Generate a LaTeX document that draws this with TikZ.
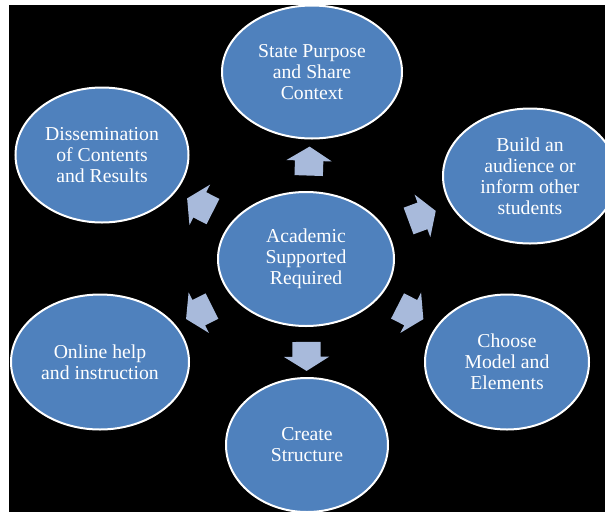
\documentclass[tikz,border=0pt]{standalone}
\usepackage{fontspec}
\setmainfont{Liberation Serif}
\usetikzlibrary{shapes.geometric, shapes.arrows}
\definecolor{myblue}{RGB}{79,129,189}
\definecolor{myarrow}{RGB}{168,186,219}
\tikzset{bubble/.style={ellipse, draw=white, line width=2pt, fill=myblue, text=white,
    align=center, inner sep=0pt, minimum width=176pt, minimum height=134pt,
    font=\fontsize{19.7}{21}\selectfont},
  blockarrow/.style={single arrow, fill=myarrow, inner xsep=0pt, inner ysep=14pt,
    minimum height=29pt, single arrow head extend=8.5pt, single arrow tip angle=116,
    sloped, allow upside down}}

\begin{document}
\begin{tikzpicture}[x=1pt, y=-1pt]
\fill[white] (0,0) rectangle (605,512);
\useasboundingbox (0,0) rectangle (605,512);
\fill[black] (9,5) rectangle (605,512);
\clip (9,5) rectangle (605,512);
\node[bubble] (acad) at (306,259) {Academic\\Supported\\Required};
\node[bubble, minimum width=180pt, minimum height=133pt] (purpose) at (312,72) {State Purpose\\and Share\\Context};
\node[bubble, minimum width=174pt, minimum height=135pt] (build) at (530,176) {Build an\\audience or\\inform other\\students};
\node[bubble, minimum width=164pt, minimum height=135pt] (choose) at (507,362) {Choose\\Model and\\Elements};
\node[bubble, minimum width=162pt] (create) at (307,445) {Create\\Structure};
\node[bubble, minimum width=178pt, minimum height=135pt] (online) at (100,362) {Online help\\and instruction};
\node[bubble, minimum width=173pt, minimum height=135pt] (dissem) at (102,155) {Dissemination\\of Contents\\and Results};
% arrows half way out to each bubble
\foreach \t in {purpose, build, choose, create, online, dissem}
  \path (acad.center) -- node[blockarrow] {} (\t.center);
\end{tikzpicture}
\end{document}
